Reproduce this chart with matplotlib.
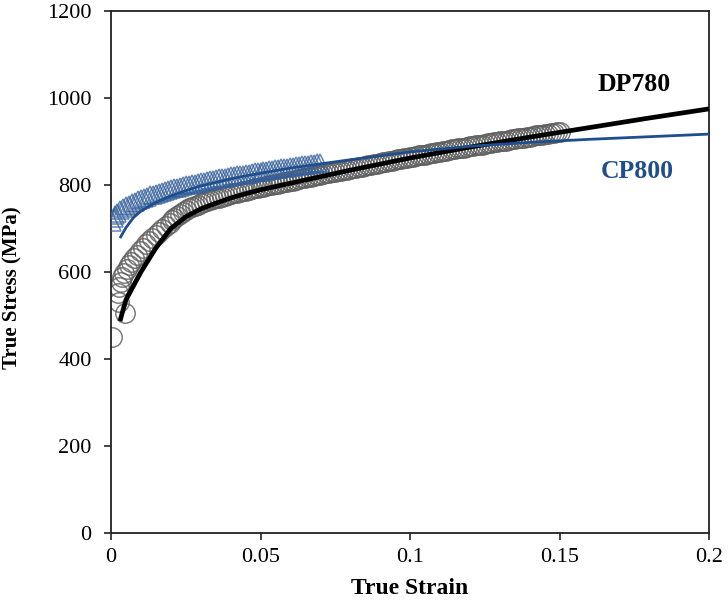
import matplotlib
matplotlib.use("Agg")
import matplotlib.pyplot as plt

plt.rcParams['font.family'] = ['Liberation Serif', 'DejaVu Serif']

# DP780 measured flow curve (open circles)
dp780_exp_strain = [
    0.0003, 0.0047, 0.0026, 0.0023, 0.0028, 0.0033, 0.0038, 0.0045, 0.0052, 0.0060,
    0.0068, 0.0077, 0.0086, 0.0096, 0.0106, 0.0116, 0.0127, 0.0138, 0.0149, 0.0160,
    0.0172, 0.0184, 0.0196, 0.0205,
    0.021, 0.022, 0.023, 0.024, 0.025, 0.026, 0.027, 0.028, 0.029, 0.030,
    0.031, 0.032, 0.033, 0.034, 0.035, 0.036, 0.037, 0.038, 0.039, 0.040,
    0.041, 0.042, 0.043, 0.044, 0.045, 0.046, 0.047, 0.048, 0.049, 0.050,
    0.051, 0.052, 0.053, 0.054, 0.055, 0.056, 0.057, 0.058, 0.059, 0.060,
    0.061, 0.062, 0.063, 0.064, 0.065, 0.066, 0.067, 0.068, 0.069, 0.070,
    0.071, 0.072, 0.073, 0.074, 0.075, 0.076, 0.077, 0.078, 0.079, 0.080,
    0.081, 0.082, 0.083, 0.084, 0.085, 0.086, 0.087, 0.088, 0.089, 0.090,
    0.091, 0.092, 0.093, 0.094, 0.095, 0.096, 0.097, 0.098, 0.099, 0.100,
    0.101, 0.102, 0.103, 0.104, 0.105, 0.106, 0.107, 0.108, 0.109, 0.110,
    0.111, 0.112, 0.113, 0.114, 0.115, 0.116, 0.117, 0.118, 0.119, 0.120,
    0.121, 0.122, 0.123, 0.124, 0.125, 0.126, 0.127, 0.128, 0.129, 0.130,
    0.131, 0.132, 0.133, 0.134, 0.135, 0.136, 0.137, 0.138, 0.139, 0.140,
    0.141, 0.142, 0.143, 0.144, 0.145, 0.146, 0.147, 0.148, 0.149, 0.150]
dp780_exp_stress = [
    450, 506, 531, 552, 565, 577, 588, 598, 607, 616,
    624, 632, 640, 648, 656, 664, 671, 678, 685, 692,
    699, 706, 713, 719,
    724, 729, 734, 738, 742, 746, 749, 752, 755, 758,
    760, 763, 765, 767, 769, 771, 773, 775, 777, 779,
    781, 782, 784, 786, 787, 789, 790, 792, 793, 795,
    796, 798, 799, 801, 802, 803, 805, 806, 807, 809,
    810, 812, 813, 815, 816, 818, 819, 821, 822, 824,
    825, 827, 828, 829, 830, 832, 833, 834, 835, 837,
    838, 840, 841, 842, 844, 845, 847, 848, 849, 851,
    852, 853, 855, 856, 857, 859, 860, 861, 863, 864,
    865, 867, 868, 869, 870, 872, 873, 874, 875, 877,
    878, 879, 880, 882, 883, 884, 885, 886, 887, 889,
    890, 891, 892, 893, 894, 896, 897, 898, 899, 900,
    901, 902, 904, 905, 906, 907, 908, 909, 910, 911,
    913, 914, 915, 916, 917, 918, 919, 920, 921, 922]

# CP800 measured flow curve (open triangles)
cp800_exp_strain = [
    0.0005, 0.0010, 0.0015, 0.0020, 0.0030, 0.0040, 0.0050, 0.0060, 0.0070, 0.0080,
    0.009, 0.010, 0.011, 0.012, 0.013, 0.014, 0.015, 0.016, 0.017, 0.018,
    0.019, 0.020, 0.021, 0.022, 0.023, 0.024, 0.025, 0.026, 0.027, 0.028,
    0.029, 0.030, 0.031, 0.032, 0.033, 0.034, 0.035, 0.036, 0.037, 0.038,
    0.039, 0.040, 0.041, 0.042, 0.043, 0.044, 0.045, 0.046, 0.047, 0.048,
    0.049, 0.050, 0.051, 0.052, 0.053, 0.054, 0.055, 0.056, 0.057, 0.058,
    0.059, 0.060, 0.061, 0.062, 0.063, 0.064, 0.065, 0.066, 0.067, 0.068,
    0.069, 0.070]
cp800_exp_stress = [
    716, 724, 730, 736, 742, 747, 751, 755, 759, 762,
    765, 768, 771, 773, 776, 778, 780, 782, 784, 786,
    788, 790, 792, 794, 795, 797, 799, 800, 802, 803,
    805, 806, 808, 809, 811, 812, 813, 815, 816, 817,
    818, 820, 821, 822, 823, 824, 825, 826, 828, 829,
    830, 831, 832, 833, 834, 835, 836, 837, 838, 839,
    840, 841, 842, 843, 844, 845, 846, 847, 848, 849,
    850, 851]

# fitted hardening curves
fit_strain = [0.003, 0.004, 0.005, 0.0075, 0.01, 0.015, 0.02, 0.025, 0.03, 0.035,
              0.04, 0.045, 0.05, 0.06, 0.08, 0.10, 0.12, 0.14, 0.16, 0.18, 0.20]
dp780_fit = [487, 512, 536, 568, 600, 655, 700, 727, 745, 758,
             770, 780, 789, 804, 834, 862, 887, 910, 932, 954, 975]
cp800_fit = [678, 690, 702, 725, 740, 760, 775, 787, 798, 806,
             814, 821, 827, 839, 858, 876, 889, 898, 905, 911, 917]

fig = plt.figure(figsize=(7.28, 6.11), dpi=100)
ax = fig.add_axes([111 / 728, 1 - 533 / 611, 598 / 728, 522 / 611])

ax.plot(dp780_exp_strain, dp780_exp_stress, linestyle='none', marker='o',
        markersize=14, markerfacecolor='none', markeredgecolor='#5e5e5e',
        markeredgewidth=1.1, alpha=0.8, zorder=2)
ax.plot(cp800_exp_strain, cp800_exp_stress, linestyle='none', marker='^',
        markersize=13, markerfacecolor='none', markeredgecolor='#355f9a',
        markeredgewidth=1.1, alpha=0.75, zorder=3)
ax.plot(fit_strain, dp780_fit, color='black', linewidth=3.4, zorder=4,
        solid_capstyle='butt')
ax.plot(fit_strain, cp800_fit, color='#1f4e8c', linewidth=2.0, zorder=5,
        solid_capstyle='butt')

ax.text(0.175, 1032, 'DP780', fontsize=18.5, fontweight='bold', color='black',
        ha='center', va='center')
ax.text(0.176, 830, 'CP800', fontsize=18.5, fontweight='bold', color='#1f4e8c',
        ha='center', va='center')

ax.set_xlim(0, 0.2)
ax.set_ylim(0, 1200)
ax.set_xticks([0, 0.05, 0.1, 0.15, 0.2])
ax.set_xticklabels(['0', '0.05', '0.1', '0.15', '0.2'])
ax.set_yticks([0, 200, 400, 600, 800, 1000, 1200])

for side in ['left', 'right', 'top', 'bottom']:
    ax.spines[side].set_linewidth(1.3)
    ax.spines[side].set_color('#222222')
ax.tick_params(axis='both', direction='out', length=5, width=1.2,
               color='#222222', labelsize=16)
ax.tick_params(axis='y', pad=9)
ax.tick_params(axis='x', pad=6)
ax.tick_params(top=False, right=False)

ax.set_xlabel('True Strain', fontsize=17, fontweight='bold', labelpad=8)
ax.set_ylabel('True Stress (MPa)', fontsize=15, fontweight='bold', labelpad=10)
ax.yaxis.set_label_coords(-0.148, 0.47)

fig.savefig('out.png', dpi=100)
